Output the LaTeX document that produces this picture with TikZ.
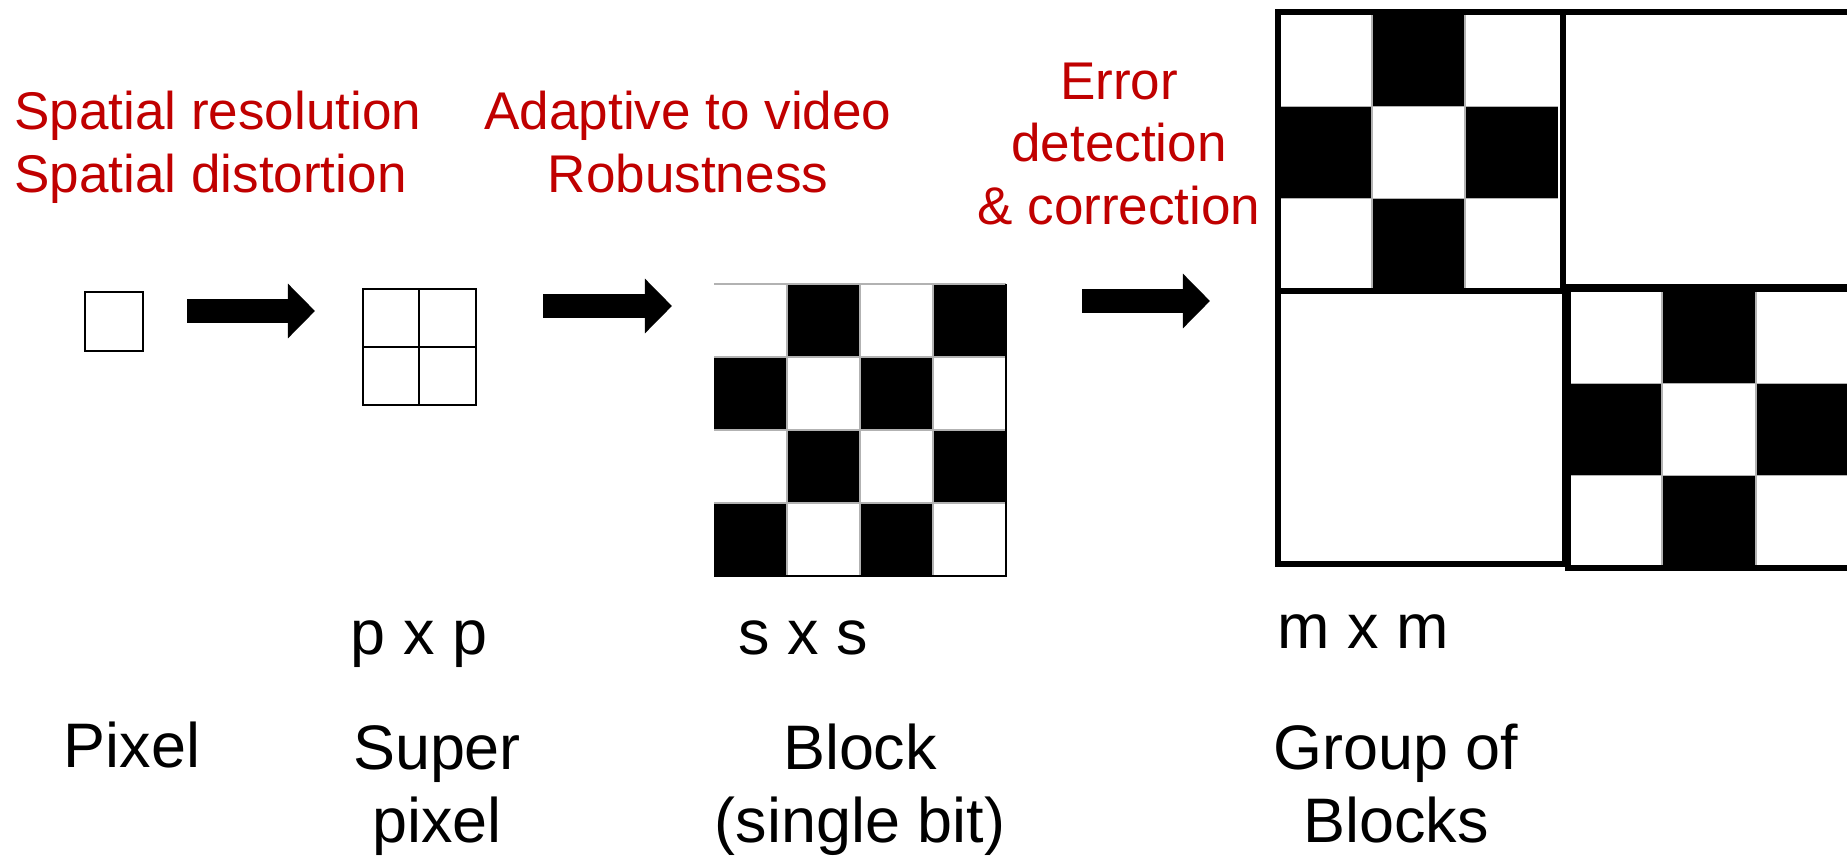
\documentclass[tikz,border=0pt]{standalone}
\usepackage{fontspec}
\setmainfont{Liberation Sans}
\usetikzlibrary{arrows.meta}
\definecolor{darkred}{HTML}{C00000}

\begin{document}
\begin{tikzpicture}[x=0.02cm,y=-0.02cm,
  redlabel/.style={text=darkred, inner sep=0, align=center, font=\fontsize{30.2}{35.3}\selectfont},
  blacklabel/.style={inner sep=0, align=center, font=\fontsize{35.8}{41.5}\selectfont},
  fatarrow/.style={line width=14.2pt, -{Triangle[length=15.4pt,width=30.2pt]}},
  gridline/.style={gray!60, line width=0.9pt},
  outline/.style={line width=1.2pt},
  groupbox/.style={line width=2.9pt}]
\useasboundingbox (0,0) rectangle (1847,859);
\clip (0,0) rectangle (1847,859);

% pixel and super pixel
\draw[outline] (85,292) rectangle (143,351);
\draw[outline] (363,289) rectangle (476,405);
\draw[outline] (419,289) -- (419,405) (363,347) -- (476,347);

% block, 4x4 checker
\foreach \c/\r in {1/0,3/0,0/1,2/1,1/2,3/2,0/3,2/3}
  \fill (714+73*\c,284+73*\r) rectangle +(73,73);
\foreach \k in {1,2,3} {
  \draw[gridline] (714+73*\k,284) -- +(0,292);
  \draw[gridline] (714,284+73*\k) -- +(292,0);
}
\draw[gridline] (714,284) -- (1006,284);
\draw[line width=0.9pt] (1006,284) -- (1006,576) -- (714,576);

% group of blocks
\foreach \c/\r in {1/0,0/1,2/1,1/2} {
  \fill (1279+93*\c,14+92.3*\r) rectangle +(93,92.3);
  \fill (1568+94*\c,291+92.3*\r) rectangle +(94,92.3);
}
\foreach \k in {1,2} {
  \draw[gridline] (1279+93*\k,14) -- +(0,277);
  \draw[gridline] (1279,14+92.3*\k) -- +(279,0);
  \draw[gridline] (1568+94*\k,291) -- +(0,277);
  \draw[gridline] (1568,291+92.3*\k) -- +(290,0);
}
\draw[groupbox] (1278,12) rectangle (1563,291);
\draw[groupbox] (1563,12) rectangle (1900,287);
\draw[groupbox] (1278,291) rectangle (1565,564);
\draw[groupbox] (1568,289) rectangle (1900,568);

% arrows
\coordinate (a1s) at (187,311); \coordinate (a1e) at (315,311);
\coordinate (a2s) at (543,306); \coordinate (a2e) at (672,306);
\coordinate (a3s) at (1082,301); \coordinate (a3e) at (1210,301);
\draw[fatarrow] (a1s) -- (a1e);
\draw[fatarrow] (a2s) -- (a2e);
\draw[fatarrow] (a3s) -- (a3e);

% red notes (base = last line)
\node[redlabel, align=left, anchor=base west] (spatial) at (14,192) {Spatial resolution\\Spatial distortion};
\node[redlabel, anchor=base] (adaptive) at (688,192) {Adaptive to video\\Robustness};
\node[redlabel, anchor=base] (error) at (1119,224) {Error\\detection\\\& correction};

% sizes and names
\node[blacklabel, anchor=base] (pxp) at (419,654) {p x p};
\node[blacklabel, anchor=base] (sxs) at (803,654) {s x s};
\node[blacklabel, anchor=base] (mxm) at (1363,648) {m x m};
\node[blacklabel, anchor=base] (pixel) at (132,767) {Pixel};
\node[blacklabel, anchor=base] (super) at (437,842) {Super\\pixel};
\node[blacklabel, anchor=base] (block) at (860,842) {Block\\(single bit)};
\node[blacklabel, anchor=base] (group) at (1396,842) {Group of\\Blocks};
\end{tikzpicture}
\end{document}
